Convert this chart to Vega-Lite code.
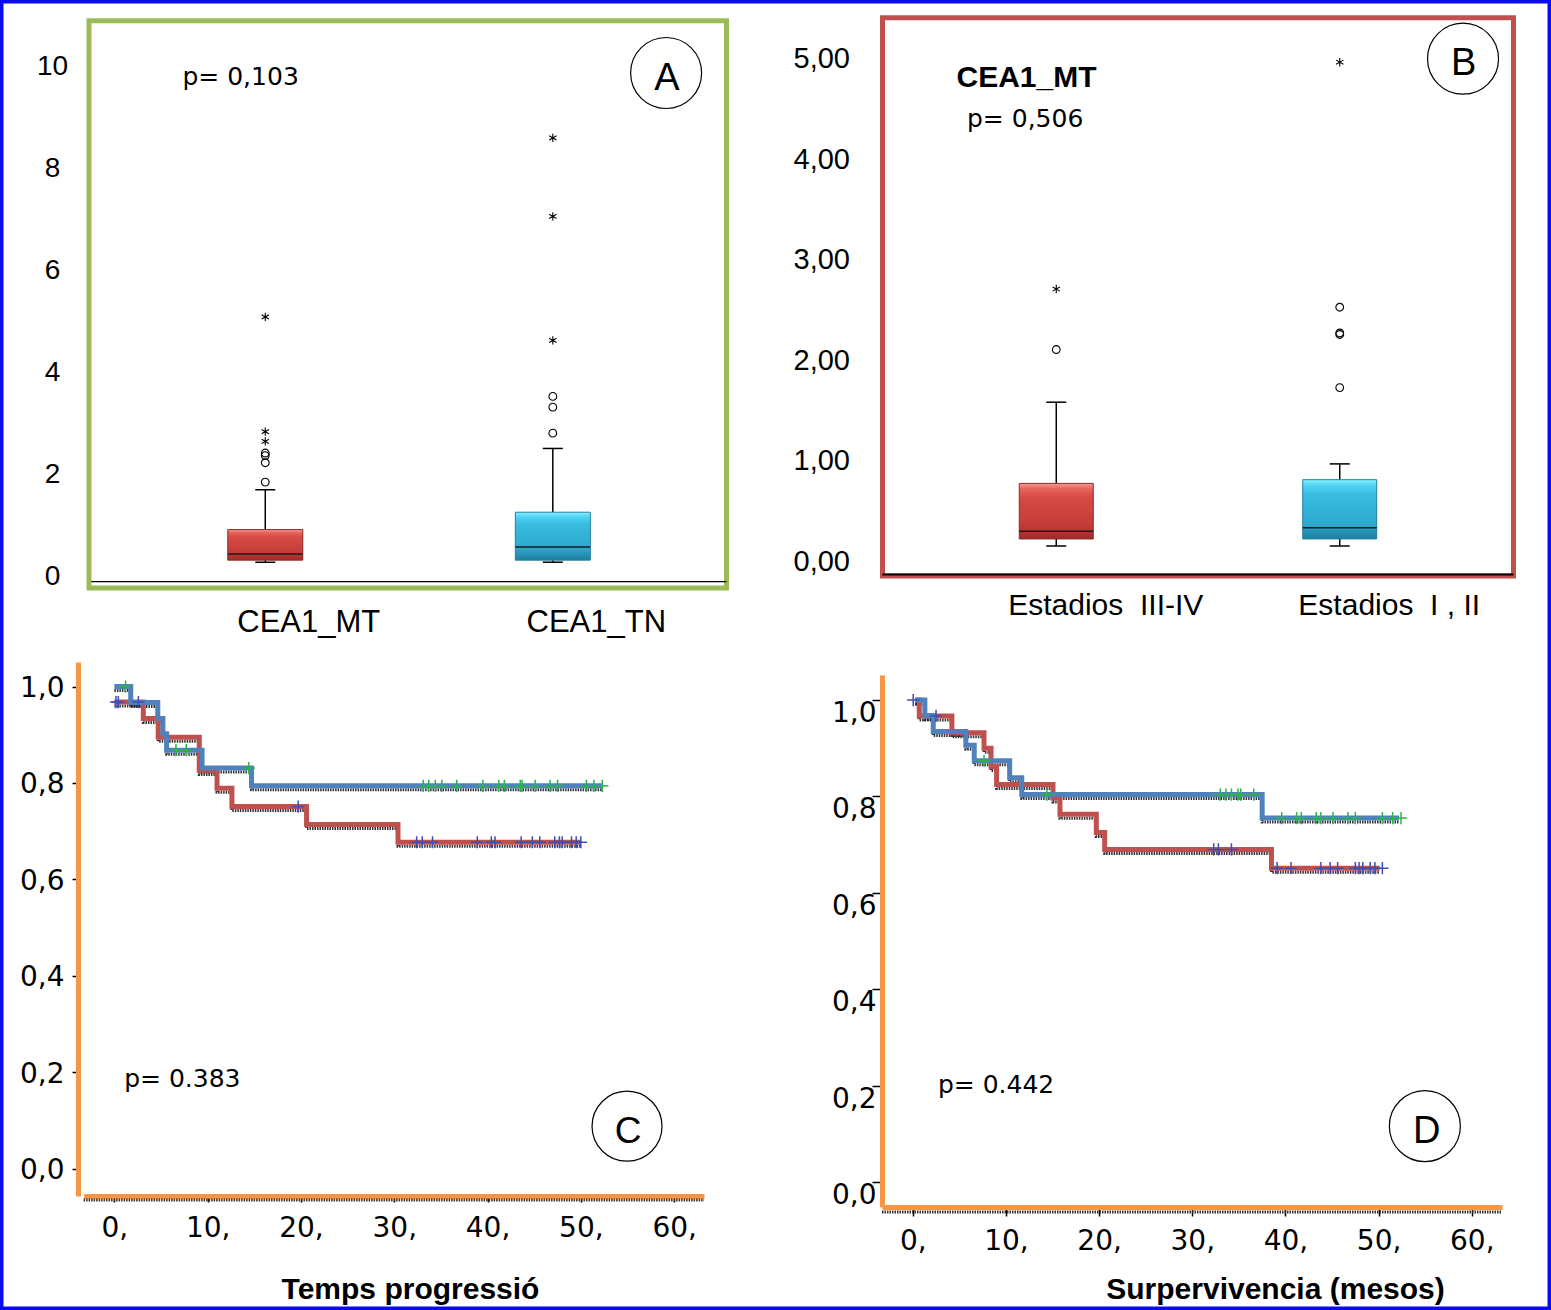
{
"$schema":"https://vega.github.io/schema/vega-lite/v6.json",
"width":1551,"height":1310,
"autosize":{"type":"fit","contains":"padding"},
"padding":0,
"background":"white",
"config":{"view":{"stroke":"#0A0AF2","strokeWidth":7},"font":"Liberation Sans","axis":{"grid":false,"labelColor":"black","titleColor":"black","labelFlush":false,"labelOverlap":false,"labelLimit":600}},
"datasets":{
"boxA":[{"g":1,"lo":0.01,"q1":0.05,"med":0.17,"q3":0.65,"hi":1.43},{"g":2,"lo":0.01,"q1":0.05,"med":0.31,"q3":0.99,"hi":2.24}],
"outA":[{"g":1,"v":1.58,"k":"o"},{"g":1,"v":1.96,"k":"o"},{"g":1,"v":2.10,"k":"o"},{"g":1,"v":2.15,"k":"o"},{"g":1,"v":2.38,"k":"*"},{"g":1,"v":2.57,"k":"*"},{"g":1,"v":4.82,"k":"*"},{"g":2,"v":2.54,"k":"o"},{"g":2,"v":3.05,"k":"o"},{"g":2,"v":3.26,"k":"o"},{"g":2,"v":4.36,"k":"*"},{"g":2,"v":6.79,"k":"*"},{"g":2,"v":8.33,"k":"*"}],
"boxB":[{"g":1,"lo":0.0,"q1":0.07,"med":0.148,"q3":0.623,"hi":1.431},{"g":2,"lo":0.0,"q1":0.07,"med":0.181,"q3":0.66,"hi":0.817}],
"outB":[{"g":1,"v":1.955,"k":"o"},{"g":1,"v":2.557,"k":"*"},{"g":2,"v":1.576,"k":"o"},{"g":2,"v":2.105,"k":"o"},{"g":2,"v":2.12,"k":"o"},{"g":2,"v":2.376,"k":"o"},{"g":2,"v":4.814,"k":"*"}],
"kmC":[
{"g":"red","t":0,"s":0.968},{"g":"red","t":3.1,"s":0.934},{"g":"red","t":4.7,"s":0.895},{"g":"red","t":9.1,"s":0.826},{"g":"red","t":11.0,"s":0.789},{"g":"red","t":12.6,"s":0.751},{"g":"red","t":20.6,"s":0.714},{"g":"red","t":30.4,"s":0.677},{"g":"red","t":50.0,"s":0.677},
{"g":"blue","t":0,"s":1.0},{"g":"blue","t":1.75,"s":0.967},{"g":"blue","t":4.65,"s":0.934},{"g":"blue","t":5.2,"s":0.902},{"g":"blue","t":5.6,"s":0.868},{"g":"blue","t":9.4,"s":0.831},{"g":"blue","t":14.7,"s":0.794},{"g":"blue","t":52.3,"s":0.794}],
"cenC":[
{"g":"blue","t":1.2,"s":1.0},{"g":"blue","t":6.6,"s":0.868},{"g":"blue","t":7.7,"s":0.868},{"g":"blue","t":14.4,"s":0.831},{"g":"blue","t":33.1,"s":0.794},{"g":"blue","t":33.7,"s":0.794},{"g":"blue","t":34.4,"s":0.794},{"g":"blue","t":35.1,"s":0.794},{"g":"blue","t":36.7,"s":0.794},{"g":"blue","t":39.5,"s":0.794},{"g":"blue","t":41.2,"s":0.794},{"g":"blue","t":41.8,"s":0.794},{"g":"blue","t":43.5,"s":0.794},{"g":"blue","t":43.7,"s":0.794},{"g":"blue","t":45.1,"s":0.794},{"g":"blue","t":46.7,"s":0.794},{"g":"blue","t":47.5,"s":0.794},{"g":"blue","t":50.6,"s":0.794},{"g":"blue","t":51.4,"s":0.794},{"g":"blue","t":52.3,"s":0.794},
{"g":"red","t":0.17,"s":0.968},{"g":"red","t":0.42,"s":0.968},{"g":"red","t":2.57,"s":0.968},{"g":"red","t":19.7,"s":0.751},{"g":"red","t":32.4,"s":0.677},{"g":"red","t":33.0,"s":0.677},{"g":"red","t":34.1,"s":0.677},{"g":"red","t":38.9,"s":0.677},{"g":"red","t":40.4,"s":0.677},{"g":"red","t":40.8,"s":0.677},{"g":"red","t":43.6,"s":0.677},{"g":"red","t":44.8,"s":0.677},{"g":"red","t":45.6,"s":0.677},{"g":"red","t":47.2,"s":0.677},{"g":"red","t":47.7,"s":0.677},{"g":"red","t":48.0,"s":0.677},{"g":"red","t":49.0,"s":0.677},{"g":"red","t":49.5,"s":0.677},{"g":"red","t":50.0,"s":0.677}],
"kmD":[
{"g":"red","t":0.3,"s":1.0},{"g":"red","t":0.7,"s":0.967},{"g":"red","t":4.2,"s":0.932},{"g":"red","t":7.65,"s":0.900},{"g":"red","t":8.4,"s":0.862},{"g":"red","t":9.0,"s":0.825},{"g":"red","t":15.05,"s":0.797},{"g":"red","t":15.8,"s":0.763},{"g":"red","t":19.7,"s":0.725},{"g":"red","t":20.6,"s":0.690},{"g":"red","t":38.5,"s":0.651},{"g":"red","t":50.1,"s":0.651},
{"g":"blue","t":0.25,"s":1.0},{"g":"blue","t":1.3,"s":0.968},{"g":"blue","t":2.2,"s":0.935},{"g":"blue","t":5.7,"s":0.906},{"g":"blue","t":6.6,"s":0.874},{"g":"blue","t":10.4,"s":0.839},{"g":"blue","t":11.7,"s":0.804},{"g":"blue","t":37.5,"s":0.755},{"g":"blue","t":52.2,"s":0.755}],
"cenD":[
{"g":"red","t":0.05,"s":1.0},{"g":"red","t":2.5,"s":0.967},{"g":"red","t":32.3,"s":0.690},{"g":"red","t":32.8,"s":0.690},{"g":"red","t":34.2,"s":0.690},{"g":"red","t":39.1,"s":0.651},{"g":"red","t":40.6,"s":0.651},{"g":"red","t":43.8,"s":0.651},{"g":"red","t":44.8,"s":0.651},{"g":"red","t":45.6,"s":0.651},{"g":"red","t":47.5,"s":0.651},{"g":"red","t":47.9,"s":0.651},{"g":"red","t":48.3,"s":0.651},{"g":"red","t":49.1,"s":0.651},{"g":"red","t":49.6,"s":0.651},{"g":"red","t":50.4,"s":0.651},
{"g":"blue","t":7.65,"s":0.874},{"g":"blue","t":14.4,"s":0.804},{"g":"blue","t":33.0,"s":0.804},{"g":"blue","t":33.6,"s":0.804},{"g":"blue","t":34.2,"s":0.804},{"g":"blue","t":34.9,"s":0.804},{"g":"blue","t":35.2,"s":0.804},{"g":"blue","t":36.6,"s":0.804},{"g":"blue","t":39.6,"s":0.755},{"g":"blue","t":41.2,"s":0.755},{"g":"blue","t":41.7,"s":0.755},{"g":"blue","t":43.3,"s":0.755},{"g":"blue","t":43.8,"s":0.755},{"g":"blue","t":45.1,"s":0.755},{"g":"blue","t":46.7,"s":0.755},{"g":"blue","t":47.5,"s":0.755},{"g":"blue","t":50.4,"s":0.755},{"g":"blue","t":51.5,"s":0.755},{"g":"blue","t":52.4,"s":0.755}]
},
"layer":[
{"layer":[
 {"data":{"name":"boxA"},"mark":{"type":"rule","color":"black","strokeWidth":1.5},
  "encoding":{"x":{"field":"g","type":"quantitative","scale":{"domain":[0.387,2.604],"range":[84,731.5],"nice":false,"zero":false},
    "axis":{"orient":"bottom","offset":-722,"values":[1,2],"labelExpr":"datum.value == 1 ? 'CEA1_MT' : 'CEA1_TN'","domain":false,"ticks":false,"tickSize":0,"labelPadding":19.5,"labelOffset":43,"labelFont":"Liberation Sans","labelFontSize":31,"title":null}},
   "y":{"field":"q3","type":"quantitative","scale":{"domain":[-0.496,10.627],"range":[588,20.7],"nice":false,"zero":false},
    "axis":{"orient":"left","offset":-84,"values":[0,2,4,6,8,10],"format":"d","domain":false,"ticks":false,"tickSize":0,"labelAlign":"center","labelPadding":32,"labelOffset":14,"labelFont":"Liberation Sans","labelFontSize":28,"title":null}},
   "y2":{"field":"hi"}}},
 {"data":{"values":[{}]},"mark":{"type":"rect","fill":"white","fillOpacity":0,"stroke":"#9BBB59","strokeWidth":5},
  "encoding":{"x":{"datum":0.387,"type":"quantitative","scale":{"domain":[0.387,2.604],"range":[84,731.5],"nice":false,"zero":false}},"x2":{"datum":2.604},
  "y":{"datum":-0.496,"type":"quantitative","scale":{"domain":[-0.496,10.627],"range":[588,20.7],"nice":false,"zero":false}},"y2":{"datum":10.627}}},
 {"data":{"values":[{}]},"mark":{"type":"rule","color":"black","strokeWidth":1.2},
  "encoding":{"x":{"datum":0.395,"type":"quantitative","scale":{"domain":[0.387,2.604],"range":[84,731.5],"nice":false,"zero":false}},"x2":{"datum":2.604},
  "y":{"datum":-0.3725,"type":"quantitative","scale":{"domain":[-0.496,10.627],"range":[588,20.7],"nice":false,"zero":false}}}},
 {"data":{"name":"boxA"},"mark":{"type":"rule","color":"black","strokeWidth":1.5},
  "encoding":{"x":{"field":"g","type":"quantitative","scale":{"domain":[0.387,2.604],"range":[84,731.5],"nice":false,"zero":false}},
   "y":{"field":"lo","type":"quantitative","scale":{"domain":[-0.496,10.627],"range":[588,20.7],"nice":false,"zero":false}},"y2":{"field":"q1"}}},
 {"data":{"name":"boxA"},"mark":{"type":"tick","orient":"horizontal","size":20,"thickness":1.5,"color":"black","opacity":1},
  "encoding":{"x":{"field":"g","type":"quantitative","scale":{"domain":[0.387,2.604],"range":[84,731.5],"nice":false,"zero":false}},
   "y":{"field":"hi","type":"quantitative","scale":{"domain":[-0.496,10.627],"range":[588,20.7],"nice":false,"zero":false}}}},
 {"data":{"name":"boxA"},"mark":{"type":"tick","orient":"horizontal","size":20,"thickness":1.5,"color":"black","opacity":1},
  "encoding":{"x":{"field":"g","type":"quantitative","scale":{"domain":[0.387,2.604],"range":[84,731.5],"nice":false,"zero":false}},
   "y":{"field":"lo","type":"quantitative","scale":{"domain":[-0.496,10.627],"range":[588,20.7],"nice":false,"zero":false}}}},
 {"data":{"name":"boxA"},"transform":[{"filter":"datum.g == 1"}],
  "mark":{"type":"bar","width":75,"stroke":"#8E2A27","strokeWidth":1,"fill":{"gradient":"linear","x1":0,"y1":0,"x2":0,"y2":1,"stops":[{"offset":0,"color":"#F59A94"},{"offset":0.1,"color":"#E8625B"},{"offset":0.25,"color":"#D64A44"},{"offset":0.75,"color":"#C43C38"},{"offset":1,"color":"#9C2B29"}]}},
  "encoding":{"x":{"field":"g","type":"quantitative","scale":{"domain":[0.387,2.604],"range":[84,731.5],"nice":false,"zero":false}},
   "y":{"field":"q1","type":"quantitative","scale":{"domain":[-0.496,10.627],"range":[588,20.7],"nice":false,"zero":false}},"y2":{"field":"q3"}}},
 {"data":{"name":"boxA"},"transform":[{"filter":"datum.g == 2"}],
  "mark":{"type":"bar","width":75,"stroke":"#22809F","strokeWidth":1,"fill":{"gradient":"linear","x1":0,"y1":0,"x2":0,"y2":1,"stops":[{"offset":0,"color":"#8AF0FF"},{"offset":0.1,"color":"#4FD3F5"},{"offset":0.25,"color":"#38BCE0"},{"offset":0.75,"color":"#2DA9CF"},{"offset":1,"color":"#1E7E9E"}]}},
  "encoding":{"x":{"field":"g","type":"quantitative","scale":{"domain":[0.387,2.604],"range":[84,731.5],"nice":false,"zero":false}},
   "y":{"field":"q1","type":"quantitative","scale":{"domain":[-0.496,10.627],"range":[588,20.7],"nice":false,"zero":false}},"y2":{"field":"q3"}}},
 {"data":{"name":"boxA"},"mark":{"type":"tick","orient":"horizontal","size":75,"thickness":1.5,"color":"#1a1a1a","opacity":1},
  "encoding":{"x":{"field":"g","type":"quantitative","scale":{"domain":[0.387,2.604],"range":[84,731.5],"nice":false,"zero":false}},
   "y":{"field":"med","type":"quantitative","scale":{"domain":[-0.496,10.627],"range":[588,20.7],"nice":false,"zero":false}}}},
 {"data":{"name":"outA"},"transform":[{"filter":"datum.k == 'o'"}],"mark":{"type":"point","shape":"circle","size":60,"filled":false,"stroke":"black","strokeWidth":1.1,"opacity":1},
  "encoding":{"x":{"field":"g","type":"quantitative","scale":{"domain":[0.387,2.604],"range":[84,731.5],"nice":false,"zero":false}},
   "y":{"field":"v","type":"quantitative","scale":{"domain":[-0.496,10.627],"range":[588,20.7],"nice":false,"zero":false}}}},
 {"data":{"name":"outA"},"transform":[{"filter":"datum.k == '*'"}],"mark":{"type":"point","shape":"M0,-1L0,1M-0.87,-0.5L0.87,0.5M-0.87,0.5L0.87,-0.5","size":70,"filled":false,"stroke":"black","strokeWidth":1.1,"opacity":1},
  "encoding":{"x":{"field":"g","type":"quantitative","scale":{"domain":[0.387,2.604],"range":[84,731.5],"nice":false,"zero":false}},
   "y":{"field":"v","type":"quantitative","scale":{"domain":[-0.496,10.627],"range":[588,20.7],"nice":false,"zero":false}}}},
 {"data":{"values":[{"t":"p= 0,103"}]},"mark":{"type":"text","font":"DejaVu Sans","fontSize":25,"align":"left","baseline":"alphabetic","color":"black"},
  "encoding":{"x":{"datum":0.712,"type":"quantitative","scale":{"domain":[0.387,2.604],"range":[84,731.5],"nice":false,"zero":false}},
   "y":{"datum":9.367,"type":"quantitative","scale":{"domain":[-0.496,10.627],"range":[588,20.7],"nice":false,"zero":false}},"text":{"field":"t"}}},
 {"data":{"values":[{"t":"A"}]},"mark":{"type":"point","shape":"circle","size":5041,"filled":false,"stroke":"black","strokeWidth":1.2,"opacity":1},
  "encoding":{"x":{"datum":2.394,"type":"quantitative","scale":{"domain":[0.387,2.604],"range":[84,731.5],"nice":false,"zero":false}},
   "y":{"datum":9.602,"type":"quantitative","scale":{"domain":[-0.496,10.627],"range":[588,20.7],"nice":false,"zero":false}}}},
 {"data":{"values":[{"t":"A"}]},"mark":{"type":"text","font":"Liberation Sans","fontSize":38,"align":"center","baseline":"alphabetic","color":"black"},
  "encoding":{"x":{"datum":2.397,"type":"quantitative","scale":{"domain":[0.387,2.604],"range":[84,731.5],"nice":false,"zero":false}},
   "y":{"datum":9.261,"type":"quantitative","scale":{"domain":[-0.496,10.627],"range":[588,20.7],"nice":false,"zero":false}},"text":{"field":"t"}}}
]},
{"layer":[
 {"data":{"name":"boxB"},"mark":{"type":"rule","color":"black","strokeWidth":1.5},
  "encoding":{"x":{"field":"g","type":"quantitative","scale":{"domain":[0.387,2.613],"range":[877.5,1518.5],"nice":false,"zero":false},
    "axis":{"orient":"bottom","offset":-734,"values":[1,2],"labelExpr":"datum.value == 1 ? 'Estadios\u00a0 III-IV' : 'Estadios\u00a0 I , II'","domain":false,"ticks":false,"tickSize":0,"labelPadding":14.3,"labelOffset":49,"labelLimit":600,"labelFont":"Liberation Sans","labelFontSize":30,"title":null}},
   "y":{"field":"q3","type":"quantitative","scale":{"domain":[-0.2985,5.256],"range":[576,17.8],"nice":false,"zero":false},
    "axis":{"orient":"left","offset":-877.5,"values":[0,1,2,3,4,5],"labelExpr":"replace(format(datum.value,'.2f'),'.',',')","domain":false,"ticks":false,"tickSize":0,"labelPadding":28,"labelOffset":15,"labelFont":"Liberation Sans","labelFontSize":29,"title":null}},
   "y2":{"field":"hi"}}},
 {"data":{"values":[{}]},"mark":{"type":"rect","fill":"white","fillOpacity":0,"stroke":"#C0504D","strokeWidth":5},
  "encoding":{"x":{"datum":0.387,"type":"quantitative","scale":{"domain":[0.387,2.613],"range":[877.5,1518.5],"nice":false,"zero":false}},"x2":{"datum":2.613},
  "y":{"datum":-0.2985,"type":"quantitative","scale":{"domain":[-0.2985,5.256],"range":[576,17.8],"nice":false,"zero":false}},"y2":{"datum":5.256}}},
 {"data":{"values":[{}]},"mark":{"type":"rule","color":"black","strokeWidth":2},
  "encoding":{"x":{"datum":0.387,"type":"quantitative","scale":{"domain":[0.387,2.613],"range":[877.5,1518.5],"nice":false,"zero":false}},"x2":{"datum":2.613},
  "y":{"datum":-0.2836,"type":"quantitative","scale":{"domain":[-0.2985,5.256],"range":[576,17.8],"nice":false,"zero":false}}}},
 {"data":{"name":"boxB"},"mark":{"type":"rule","color":"black","strokeWidth":1.5},
  "encoding":{"x":{"field":"g","type":"quantitative","scale":{"domain":[0.387,2.613],"range":[877.5,1518.5],"nice":false,"zero":false}},
   "y":{"field":"lo","type":"quantitative","scale":{"domain":[-0.2985,5.256],"range":[576,17.8],"nice":false,"zero":false}},"y2":{"field":"q1"}}},
 {"data":{"name":"boxB"},"mark":{"type":"tick","orient":"horizontal","size":20,"thickness":1.5,"color":"black","opacity":1},
  "encoding":{"x":{"field":"g","type":"quantitative","scale":{"domain":[0.387,2.613],"range":[877.5,1518.5],"nice":false,"zero":false}},
   "y":{"field":"hi","type":"quantitative","scale":{"domain":[-0.2985,5.256],"range":[576,17.8],"nice":false,"zero":false}}}},
 {"data":{"name":"boxB"},"mark":{"type":"tick","orient":"horizontal","size":20,"thickness":1.5,"color":"black","opacity":1},
  "encoding":{"x":{"field":"g","type":"quantitative","scale":{"domain":[0.387,2.613],"range":[877.5,1518.5],"nice":false,"zero":false}},
   "y":{"field":"lo","type":"quantitative","scale":{"domain":[-0.2985,5.256],"range":[576,17.8],"nice":false,"zero":false}}}},
 {"data":{"name":"boxB"},"transform":[{"filter":"datum.g == 1"}],
  "mark":{"type":"bar","width":74,"stroke":"#8E2A27","strokeWidth":1,"fill":{"gradient":"linear","x1":0,"y1":0,"x2":0,"y2":1,"stops":[{"offset":0,"color":"#F59A94"},{"offset":0.1,"color":"#E8625B"},{"offset":0.25,"color":"#D64A44"},{"offset":0.75,"color":"#C43C38"},{"offset":1,"color":"#9C2B29"}]}},
  "encoding":{"x":{"field":"g","type":"quantitative","scale":{"domain":[0.387,2.613],"range":[877.5,1518.5],"nice":false,"zero":false}},
   "y":{"field":"q1","type":"quantitative","scale":{"domain":[-0.2985,5.256],"range":[576,17.8],"nice":false,"zero":false}},"y2":{"field":"q3"}}},
 {"data":{"name":"boxB"},"transform":[{"filter":"datum.g == 2"}],
  "mark":{"type":"bar","width":74,"stroke":"#22809F","strokeWidth":1,"fill":{"gradient":"linear","x1":0,"y1":0,"x2":0,"y2":1,"stops":[{"offset":0,"color":"#8AF0FF"},{"offset":0.1,"color":"#4FD3F5"},{"offset":0.25,"color":"#38BCE0"},{"offset":0.75,"color":"#2DA9CF"},{"offset":1,"color":"#1E7E9E"}]}},
  "encoding":{"x":{"field":"g","type":"quantitative","scale":{"domain":[0.387,2.613],"range":[877.5,1518.5],"nice":false,"zero":false}},
   "y":{"field":"q1","type":"quantitative","scale":{"domain":[-0.2985,5.256],"range":[576,17.8],"nice":false,"zero":false}},"y2":{"field":"q3"}}},
 {"data":{"name":"boxB"},"mark":{"type":"tick","orient":"horizontal","size":74,"thickness":1.5,"color":"#1a1a1a","opacity":1},
  "encoding":{"x":{"field":"g","type":"quantitative","scale":{"domain":[0.387,2.613],"range":[877.5,1518.5],"nice":false,"zero":false}},
   "y":{"field":"med","type":"quantitative","scale":{"domain":[-0.2985,5.256],"range":[576,17.8],"nice":false,"zero":false}}}},
 {"data":{"name":"outB"},"transform":[{"filter":"datum.k == 'o'"}],"mark":{"type":"point","shape":"circle","size":60,"filled":false,"stroke":"black","strokeWidth":1.1,"opacity":1},
  "encoding":{"x":{"field":"g","type":"quantitative","scale":{"domain":[0.387,2.613],"range":[877.5,1518.5],"nice":false,"zero":false}},
   "y":{"field":"v","type":"quantitative","scale":{"domain":[-0.2985,5.256],"range":[576,17.8],"nice":false,"zero":false}}}},
 {"data":{"name":"outB"},"transform":[{"filter":"datum.k == '*'"}],"mark":{"type":"point","shape":"M0,-1L0,1M-0.87,-0.5L0.87,0.5M-0.87,0.5L0.87,-0.5","size":70,"filled":false,"stroke":"black","strokeWidth":1.1,"opacity":1},
  "encoding":{"x":{"field":"g","type":"quantitative","scale":{"domain":[0.387,2.613],"range":[877.5,1518.5],"nice":false,"zero":false}},
   "y":{"field":"v","type":"quantitative","scale":{"domain":[-0.2985,5.256],"range":[576,17.8],"nice":false,"zero":false}}}},
 {"data":{"values":[{"t":"CEA1_MT"}]},"mark":{"type":"text","font":"Liberation Sans","fontWeight":"bold","fontSize":30,"align":"left","baseline":"alphabetic","color":"black"},
  "encoding":{"x":{"datum":0.648,"type":"quantitative","scale":{"domain":[0.387,2.613],"range":[877.5,1518.5],"nice":false,"zero":false}},
   "y":{"datum":4.567,"type":"quantitative","scale":{"domain":[-0.2985,5.256],"range":[576,17.8],"nice":false,"zero":false}},"text":{"field":"t"}}},
 {"data":{"values":[{"t":"p= 0,506"}]},"mark":{"type":"text","font":"DejaVu Sans","fontSize":25,"align":"left","baseline":"alphabetic","color":"black"},
  "encoding":{"x":{"datum":0.685,"type":"quantitative","scale":{"domain":[0.387,2.613],"range":[877.5,1518.5],"nice":false,"zero":false}},
   "y":{"datum":4.166,"type":"quantitative","scale":{"domain":[-0.2985,5.256],"range":[576,17.8],"nice":false,"zero":false}},"text":{"field":"t"}}},
 {"data":{"values":[{"t":"B"}]},"mark":{"type":"point","shape":"circle","size":5041,"filled":false,"stroke":"black","strokeWidth":1.2,"opacity":1},
  "encoding":{"x":{"datum":2.435,"type":"quantitative","scale":{"domain":[0.387,2.613],"range":[877.5,1518.5],"nice":false,"zero":false}},
   "y":{"datum":4.849,"type":"quantitative","scale":{"domain":[-0.2985,5.256],"range":[576,17.8],"nice":false,"zero":false}}}},
 {"data":{"values":[{"t":"B"}]},"mark":{"type":"text","font":"Liberation Sans","fontSize":38,"align":"center","baseline":"alphabetic","color":"black"},
  "encoding":{"x":{"datum":2.437,"type":"quantitative","scale":{"domain":[0.387,2.613],"range":[877.5,1518.5],"nice":false,"zero":false}},
   "y":{"datum":4.682,"type":"quantitative","scale":{"domain":[-0.2985,5.256],"range":[576,17.8],"nice":false,"zero":false}},"text":{"field":"t"}}}
]},
{"layer":[
 {"data":{"name":"kmC"},"mark":{"type":"line","interpolate":"step-after","color":"#111111","strokeWidth":3,"strokeDash":[1.5,1],"yOffset":4,"opacity":0.85},
  "encoding":{"x":{"field":"t","type":"quantitative","scale":{"domain":[-3.3,63.2],"range":[83.6,704],"nice":false,"zero":false},
    "axis":{"orient":"bottom","offset":-114,"values":[0,10,20,30,40,50,60],"labelExpr":"datum.value + ','","domain":true,"domainColor":"#F79646","domainWidth":5,"ticks":true,"tickColor":"black","tickSize":6,"tickWidth":1.5,"labelPadding":12.7,"labelFont":"DejaVu Sans","labelFontSize":28,"title":"Temps progressió","titleX":410,"titleY":102,"titleAlign":"center","titleBaseline":"alphabetic","titleFont":"Liberation Sans","titleFontSize":30,"titleFontWeight":"bold"}},
   "y":{"field":"s","type":"quantitative","scale":{"domain":[-0.057,1.051],"range":[1196,662],"nice":false,"zero":false},
    "axis":{"orient":"left","offset":-78,"values":[0,0.2,0.4,0.6,0.8,1],"labelExpr":"replace(format(datum.value,'.1f'),'.',',')","domain":true,"domainColor":"#F79646","domainWidth":5,"ticks":true,"tickColor":"black","tickSize":6,"tickWidth":1.5,"labelPadding":8,"labelOffset":2,"labelFont":"DejaVu Sans","labelFontSize":28,"title":null}},
   "detail":{"field":"g"}}},
 {"data":{"values":[{}]},"mark":{"type":"rule","color":"#333333","strokeWidth":3,"strokeDash":[1.5,1],"yOffset":4},
  "encoding":{"x":{"datum":-3.3,"type":"quantitative","scale":{"domain":[-3.3,63.2],"range":[83.6,704],"nice":false,"zero":false}},"x2":{"datum":63.2},
   "y":{"datum":-0.057,"type":"quantitative","scale":{"domain":[-0.057,1.051],"range":[1196,662],"nice":false,"zero":false}}}},
 {"data":{"name":"kmC"},"transform":[{"filter":"datum.g == 'red'"}],"mark":{"type":"line","interpolate":"step-after","color":"#C0504D","strokeWidth":5},
  "encoding":{"x":{"field":"t","type":"quantitative","scale":{"domain":[-3.3,63.2],"range":[83.6,704],"nice":false,"zero":false}},
   "y":{"field":"s","type":"quantitative","scale":{"domain":[-0.057,1.051],"range":[1196,662],"nice":false,"zero":false}}}},
 {"data":{"name":"kmC"},"transform":[{"filter":"datum.g == 'blue'"}],"mark":{"type":"line","interpolate":"step-after","color":"#4F81BD","strokeWidth":5},
  "encoding":{"x":{"field":"t","type":"quantitative","scale":{"domain":[-3.3,63.2],"range":[83.6,704],"nice":false,"zero":false}},
   "y":{"field":"s","type":"quantitative","scale":{"domain":[-0.057,1.051],"range":[1196,662],"nice":false,"zero":false}}}},
 {"data":{"name":"cenC"},"transform":[{"filter":"datum.g == 'blue'"}],"mark":{"type":"point","shape":"M-1,0L1,0M0,-1L0,1","size":150,"filled":false,"stroke":"#2DB34A","strokeWidth":1.5,"opacity":1},
  "encoding":{"x":{"field":"t","type":"quantitative","scale":{"domain":[-3.3,63.2],"range":[83.6,704],"nice":false,"zero":false}},
   "y":{"field":"s","type":"quantitative","scale":{"domain":[-0.057,1.051],"range":[1196,662],"nice":false,"zero":false}}}},
 {"data":{"name":"cenC"},"transform":[{"filter":"datum.g == 'red'"}],"mark":{"type":"point","shape":"M-1,0L1,0M0,-1L0,1","size":150,"filled":false,"stroke":"#3D4DB7","strokeWidth":1.5,"opacity":1},
  "encoding":{"x":{"field":"t","type":"quantitative","scale":{"domain":[-3.3,63.2],"range":[83.6,704],"nice":false,"zero":false}},
   "y":{"field":"s","type":"quantitative","scale":{"domain":[-0.057,1.051],"range":[1196,662],"nice":false,"zero":false}}}},
 {"data":{"values":[{"t":"p= 0.383"}]},"mark":{"type":"text","font":"DejaVu Sans","fontSize":25,"align":"left","baseline":"alphabetic","color":"black"},
  "encoding":{"x":{"datum":1.05,"type":"quantitative","scale":{"domain":[-3.3,63.2],"range":[83.6,704],"nice":false,"zero":false}},
   "y":{"datum":0.169,"type":"quantitative","scale":{"domain":[-0.057,1.051],"range":[1196,662],"nice":false,"zero":false}},"text":{"field":"t"}}},
 {"data":{"values":[{"t":"C"}]},"mark":{"type":"point","shape":"circle","size":4900,"filled":false,"stroke":"black","strokeWidth":1.2,"opacity":1},
  "encoding":{"x":{"datum":54.95,"type":"quantitative","scale":{"domain":[-3.3,63.2],"range":[83.6,704],"nice":false,"zero":false}},
   "y":{"datum":0.0878,"type":"quantitative","scale":{"domain":[-0.057,1.051],"range":[1196,662],"nice":false,"zero":false}}}},
 {"data":{"values":[{"t":"C"}]},"mark":{"type":"text","font":"Liberation Sans","fontSize":37,"align":"center","baseline":"alphabetic","color":"black"},
  "encoding":{"x":{"datum":55.07,"type":"quantitative","scale":{"domain":[-3.3,63.2],"range":[83.6,704],"nice":false,"zero":false}},
   "y":{"datum":0.054,"type":"quantitative","scale":{"domain":[-0.057,1.051],"range":[1196,662],"nice":false,"zero":false}},"text":{"field":"t"}}}
]},
{"layer":[
 {"data":{"name":"kmD"},"mark":{"type":"line","interpolate":"step-after","color":"#111111","strokeWidth":3,"strokeDash":[1.5,1],"yOffset":4,"opacity":0.85},
  "encoding":{"x":{"field":"t","type":"quantitative","scale":{"domain":[-3.3,63.24],"range":[882,1502],"nice":false,"zero":false},
    "axis":{"orient":"bottom","offset":-103,"values":[0,10,20,30,40,50,60],"labelExpr":"datum.value + ','","domain":true,"domainColor":"#F79646","domainWidth":5,"ticks":true,"tickColor":"black","tickSize":9,"tickWidth":1.5,"labelPadding":11,"labelFont":"DejaVu Sans","labelFontSize":28,"title":"Surpervivencia (mesos)","titleX":1275,"titleY":91,"titleAlign":"center","titleBaseline":"alphabetic","titleFont":"Liberation Sans","titleFontSize":30,"titleFontWeight":"bold"}},
   "y":{"field":"s","type":"quantitative","scale":{"domain":[-0.052,1.052],"range":[1207,675],"nice":false,"zero":false},
    "axis":{"orient":"left","offset":-882,"values":[0,0.2,0.4,0.6,0.8,1],"labelExpr":"replace(format(datum.value,'.1f'),'.',',')","domain":true,"domainColor":"#F79646","domainWidth":5,"ticks":true,"tickColor":"black","tickSize":10,"tickWidth":1.5,"labelPadding":-4,"labelOffset":13.5,"labelFont":"DejaVu Sans","labelFontSize":28,"title":null}},
   "detail":{"field":"g"}}},
 {"data":{"values":[{}]},"mark":{"type":"rule","color":"#333333","strokeWidth":3,"strokeDash":[1.5,1],"yOffset":5},
  "encoding":{"x":{"datum":-3.3,"type":"quantitative","scale":{"domain":[-3.3,63.24],"range":[882,1502],"nice":false,"zero":false}},"x2":{"datum":63.24},
   "y":{"datum":-0.052,"type":"quantitative","scale":{"domain":[-0.052,1.052],"range":[1207,675],"nice":false,"zero":false}}}},
 {"data":{"name":"kmD"},"transform":[{"filter":"datum.g == 'red'"}],"mark":{"type":"line","interpolate":"step-after","color":"#C0504D","strokeWidth":5},
  "encoding":{"x":{"field":"t","type":"quantitative","scale":{"domain":[-3.3,63.24],"range":[882,1502],"nice":false,"zero":false}},
   "y":{"field":"s","type":"quantitative","scale":{"domain":[-0.052,1.052],"range":[1207,675],"nice":false,"zero":false}}}},
 {"data":{"name":"kmD"},"transform":[{"filter":"datum.g == 'blue'"}],"mark":{"type":"line","interpolate":"step-after","color":"#4F81BD","strokeWidth":5},
  "encoding":{"x":{"field":"t","type":"quantitative","scale":{"domain":[-3.3,63.24],"range":[882,1502],"nice":false,"zero":false}},
   "y":{"field":"s","type":"quantitative","scale":{"domain":[-0.052,1.052],"range":[1207,675],"nice":false,"zero":false}}}},
 {"data":{"name":"cenD"},"transform":[{"filter":"datum.g == 'blue'"}],"mark":{"type":"point","shape":"M-1,0L1,0M0,-1L0,1","size":150,"filled":false,"stroke":"#2DB34A","strokeWidth":1.5,"opacity":1},
  "encoding":{"x":{"field":"t","type":"quantitative","scale":{"domain":[-3.3,63.24],"range":[882,1502],"nice":false,"zero":false}},
   "y":{"field":"s","type":"quantitative","scale":{"domain":[-0.052,1.052],"range":[1207,675],"nice":false,"zero":false}}}},
 {"data":{"name":"cenD"},"transform":[{"filter":"datum.g == 'red'"}],"mark":{"type":"point","shape":"M-1,0L1,0M0,-1L0,1","size":150,"filled":false,"stroke":"#3D4DB7","strokeWidth":1.5,"opacity":1},
  "encoding":{"x":{"field":"t","type":"quantitative","scale":{"domain":[-3.3,63.24],"range":[882,1502],"nice":false,"zero":false}},
   "y":{"field":"s","type":"quantitative","scale":{"domain":[-0.052,1.052],"range":[1207,675],"nice":false,"zero":false}}}},
 {"data":{"values":[{"t":"p= 0.442"}]},"mark":{"type":"text","font":"DejaVu Sans","fontSize":25,"align":"left","baseline":"alphabetic","color":"black"},
  "encoding":{"x":{"datum":2.7,"type":"quantitative","scale":{"domain":[-3.3,63.24],"range":[882,1502],"nice":false,"zero":false}},
   "y":{"datum":0.184,"type":"quantitative","scale":{"domain":[-0.052,1.052],"range":[1207,675],"nice":false,"zero":false}},"text":{"field":"t"}}},
 {"data":{"values":[{"t":"D"}]},"mark":{"type":"point","shape":"circle","size":5041,"filled":false,"stroke":"black","strokeWidth":1.2,"opacity":1},
  "encoding":{"x":{"datum":54.96,"type":"quantitative","scale":{"domain":[-3.3,63.24],"range":[882,1502],"nice":false,"zero":false}},
   "y":{"datum":0.1158,"type":"quantitative","scale":{"domain":[-0.052,1.052],"range":[1207,675],"nice":false,"zero":false}}}},
 {"data":{"values":[{"t":"D"}]},"mark":{"type":"text","font":"Liberation Sans","fontSize":38,"align":"center","baseline":"alphabetic","color":"black"},
  "encoding":{"x":{"datum":55.15,"type":"quantitative","scale":{"domain":[-3.3,63.24],"range":[882,1502],"nice":false,"zero":false}},
   "y":{"datum":0.080,"type":"quantitative","scale":{"domain":[-0.052,1.052],"range":[1207,675],"nice":false,"zero":false}},"text":{"field":"t"}}}
]}
],
"resolve":{"scale":{"x":"independent","y":"independent"}}
}
